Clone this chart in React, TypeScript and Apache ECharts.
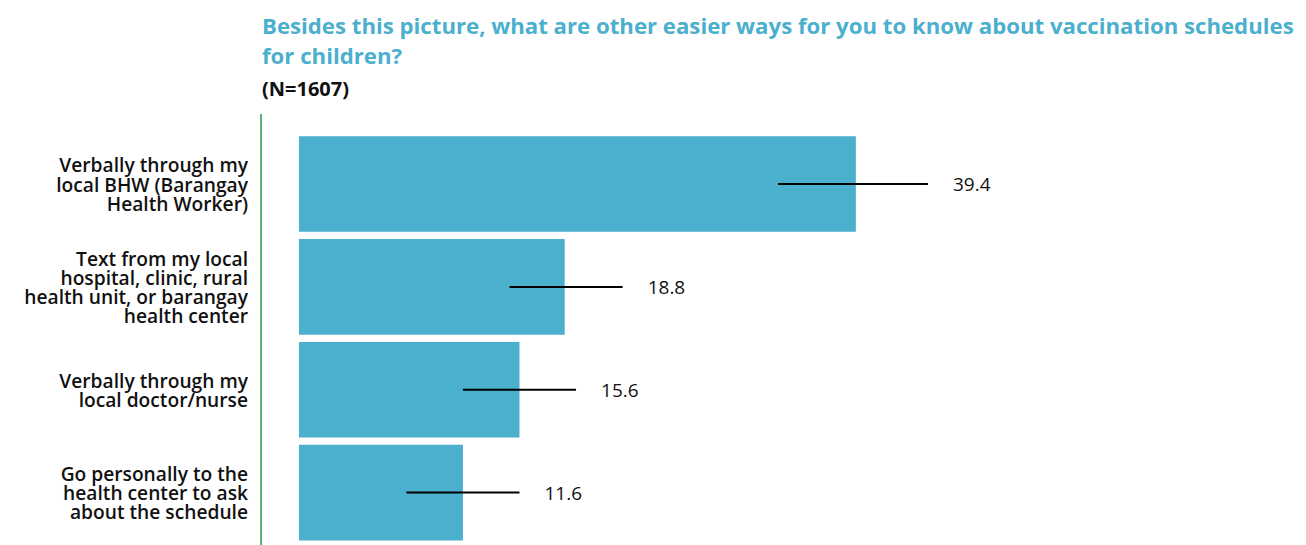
import React, { useEffect, useRef } from "react";
import * as echarts from "echarts";

const titleText = "Besides this picture, what are other easier ways for you to know about vaccination schedules\nfor children?";
const subText = "(N=1607)";
const categories = [
  "Verbally through my\nlocal BHW (Barangay\nHealth Worker)",
  "Text from my local\nhospital, clinic, rural\nhealth unit, or barangay\nhealth center",
  "Verbally through my\nlocal doctor/nurse",
  "Go personally to the\nhealth center to ask\nabout the schedule",
];
const values = [39.4, 18.8, 15.6, 11.6];
const errLow = [33.9, 14.9, 11.6, 7.6];
const errHigh = [44.5, 22.9, 19.6, 15.6];

const FONT = "'Open Sans', 'Noto Sans', sans-serif";

export default function App() {
  const ref = useRef<HTMLDivElement>(null);
  useEffect(() => {
    document.body.style.margin = "0";
    const chart = echarts.init(ref.current!, undefined, { renderer: "svg" });
    chart.setOption({
      animation: false,
      title: [
        {
          text: titleText,
          left: 262,
          top: 10,
          padding: 0,
          textStyle: { fontFamily: FONT, fontSize: 22.2, fontWeight: "bold", color: "#4BAFCE", lineHeight: 30 },
        },
        {
          text: subText,
          left: 262,
          top: 77,
          padding: 0,
          textStyle: { fontFamily: FONT, fontSize: 20, fontWeight: "bold", color: "#111", lineHeight: 22 },
        },
      ],
      grid: { left: 299, right: 159, top: 132.6, bottom: 1 },
      xAxis: { type: "value", min: 0, max: 60, show: false },
      yAxis: {
        type: "category",
        inverse: true,
        data: categories,
        axisLine: { show: false },
        axisTick: { show: false },
        axisLabel: {
          margin: 51,
          align: "right",
          fontFamily: FONT,
          fontSize: 19.2,
          fontWeight: 600,
          lineHeight: 19.2,
          color: "#111",
        },
      },
      graphic: [
        {
          type: "line",
          shape: { x1: 261, y1: 114, x2: 261, y2: 545 },
          style: { stroke: "#5BB37A", lineWidth: 2 },
        },
      ],
      series: [
        {
          type: "bar",
          data: values,
          barCategoryGap: "7%",
          itemStyle: { color: "#4BAFCE" },
          z: 2,
        },
        {
          type: "custom",
          z: 10,
          data: values.map((v, i) => [errLow[i], errHigh[i], i, v]),
          encode: { x: [0, 1], y: 2 },
          renderItem: (params: any, api: any) => {
            const lo = api.coord([api.value(0), api.value(2)]);
            const hi = api.coord([api.value(1), api.value(2)]);
            return {
              type: "group",
              children: [
                {
                  type: "line",
                  shape: { x1: lo[0], y1: lo[1], x2: hi[0], y2: hi[1] },
                  style: { stroke: "#000", lineWidth: 2 },
                },
                {
                  type: "text",
                  x: hi[0] + 25,
                  y: hi[1],
                  style: {
                    text: String(api.value(3)),
                    fontFamily: FONT,
                    fontSize: 19,
                    fontWeight: 500,
                    fill: "#111",
                    verticalAlign: "middle",
                    align: "left",
                  },
                },
              ],
            };
          },
        },
      ],
    });
    return () => chart.dispose();
  }, []);
  return <div ref={ref} style={{ width: 1306, height: 545 }} />;
}
